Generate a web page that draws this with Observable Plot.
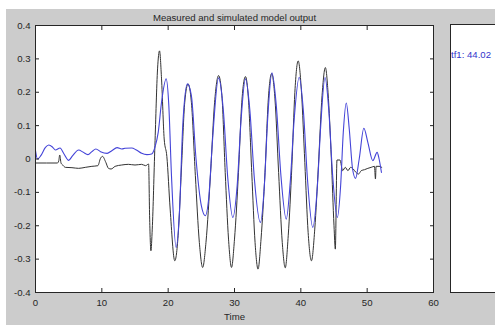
<!DOCTYPE html>
<html><head><meta charset="utf-8">
<script src="https://cdn.jsdelivr.net/npm/d3@7"></script>
<script src="https://cdn.jsdelivr.net/npm/@observablehq/plot@0.6"></script>
<style>
html,body{margin:0;padding:0;background:#fff;width:495px;height:325px;overflow:hidden;font-family:"Liberation Sans",Arial,sans-serif;}
#fig{position:absolute;left:6px;top:9px;width:489px;height:316px;background:#cccccc;}
#fig svg{display:block;}
#panel{position:absolute;left:450px;top:24px;width:60px;height:267px;background:#fff;border:1px solid #262626;}
#panel span{position:absolute;left:0px;top:24px;font-size:9.6px;color:#3333cc;white-space:nowrap;}
</style></head><body>
<div id="fig"></div>
<div id="panel"><span id="fit"></span></div>
<script>
const titleText = "Measured and simulated model output";
const xLabel = "Time";
const fitLabel = "tf1: 44.02";
const xTicks = [0, 10, 20, 30, 40, 50, 60];
const yTicks = [-0.4, -0.3, -0.2, -0.1, 0, 0.1, 0.2, 0.3, 0.4];
const yTickLabels = ["-0.4", "-0.3", "-0.2", "-0.1", "0", "0.1", "0.2", "0.3", "0.4"];

// Measured output (black)
const measuredT = [0, 3.3, 3.5, 3.65, 3.85, 4.1, 4.5, 5.5, 6.5, 7.5, 8.5, 9.4, 9.8, 10.1, 10.6, 11.0, 11.4, 12.0, 13.0, 14.0, 15.0, 16.0, 16.6, 17.05,
  17.2, 17.4, 17.6, 18.0, 18.4, 18.7, 19.0, 19.4, 19.8, 20.3, 21.0, 21.5, 22.0, 22.5, 23.0, 23.5, 24.1, 24.7, 25.2, 25.7, 26.4, 27.0, 27.6, 28.1, 28.6, 29.1, 29.55,
  30.0, 30.6, 31.1, 31.65, 32.1, 32.6, 33.1, 33.55, 34.0, 34.6, 35.1, 35.6, 36.1, 36.65, 37.2, 37.65, 38.1, 38.65, 39.1, 39.6, 40.1, 40.6, 41.1, 41.6, 42.1, 42.65, 43.2, 43.7,
  44.1, 44.6, 45.0, 45.2, 45.45, 45.9, 46.3, 46.7, 47.1, 47.5, 47.9, 48.3, 48.7, 49.1, 49.6, 50.1, 50.6, 51.1, 51.25, 51.35, 51.8, 52.2];
const measuredV = [-0.012, -0.012, -0.006, 0.012, -0.012, -0.018, -0.025, -0.026, -0.028, -0.025, -0.022, -0.02, 0.002, 0.008, -0.01, -0.028, -0.03, -0.022, -0.018, -0.016, -0.018, -0.016, -0.02, -0.015,
  -0.17, -0.275, -0.21, 0.04, 0.27, 0.324, 0.24, 0.06, 0.008, -0.15, -0.305, -0.23, -0.03, 0.17, 0.225, 0.17, -0.05, -0.25, -0.325, -0.25, -0.04, 0.17, 0.25, 0.19, -0.04, -0.24, -0.325,
  -0.24, -0.04, 0.17, 0.247, 0.18, -0.04, -0.25, -0.33, -0.24, -0.04, 0.18, 0.256, 0.18, -0.04, -0.25, -0.326, -0.23, -0.02, 0.2, 0.294, 0.2, -0.01, -0.22, -0.305, -0.21, -0.02, 0.19, 0.274,
  0.2, 0.0, -0.2, -0.27, -0.003, -0.003, -0.035, -0.025, -0.035, -0.025, -0.03, -0.04, -0.045, -0.035, -0.032, -0.028, -0.025, -0.022, -0.06, -0.022, -0.022, -0.025];

// Simulated model output tf1 (blue)
const modelT = [0, 0.3, 0.8, 1.5, 2.0, 2.6, 3.0, 3.7, 4.3, 5.0, 5.6, 6.5, 7.2, 7.9, 8.5, 9.1, 9.8, 10.8, 11.5, 12.3, 13.0, 13.5, 14.5, 15.2, 16.0, 16.8, 17.5,
  18.0, 18.5, 19.0, 19.7, 20.1, 20.5, 21.2, 21.7, 22.2, 22.9, 23.5, 24.2, 25.0, 25.6, 26.1, 26.7, 27.6, 28.3, 29.0, 29.75, 30.4, 31.0, 31.65, 32.3, 33.0, 33.9,
  34.5, 35.0, 35.65, 36.3, 37.0, 37.8, 38.4, 39.0, 39.75, 40.4, 41.0, 41.8, 42.5, 43.0, 43.65, 44.2, 44.8, 45.5, 46.0, 46.4, 46.85, 47.3, 47.8, 48.25, 48.8, 49.5, 50.1, 50.85, 51.5, 51.8, 52.15];
const modelV = [0.025, 0.0, 0.01, 0.035, 0.042, 0.035, 0.027, 0.033, 0.015, -0.004, 0.01, 0.027, 0.02, 0.013, 0.022, 0.03, 0.022, 0.017, 0.025, 0.034, 0.03, 0.032, 0.033, 0.027, 0.017, 0.013, 0.015,
  0.035, 0.08, 0.17, 0.24, 0.16, -0.05, -0.265, -0.16, 0.1, 0.225, 0.19, 0.0, -0.14, -0.17, -0.12, 0.06, 0.243, 0.15, -0.06, -0.175, -0.08, 0.12, 0.24, 0.15, -0.06, -0.19,
  -0.08, 0.12, 0.258, 0.16, -0.05, -0.18, -0.07, 0.12, 0.245, 0.14, -0.06, -0.205, -0.08, 0.1, 0.244, 0.15, -0.05, -0.175, -0.08, 0.08, 0.168, 0.09, -0.03, -0.058, 0.0, 0.092, 0.05, -0.005, 0.02, 0.0, -0.04];

const measured = measuredT.map((t, i) => ({t, v: measuredV[i]}));
const model = modelT.map((t, i) => ({t, v: modelV[i]}));

const font = "Liberation Sans, Arial, sans-serif";
const chart = Plot.plot({
  width: 489, height: 316,
  marginLeft: 29, marginTop: 16, marginRight: 62, marginBottom: 33,
  style: {background: "transparent", fontFamily: font, fontSize: "9.6px", color: "#262626"},
  x: {domain: [0, 60]},
  y: {domain: [-0.4, 0.4]},
  marks: [
    Plot.frame({fill: "white"}),
    Plot.line(measured, {x: "t", y: "v", stroke: "#333333", strokeWidth: 1, curve: "monotone-x"}),
    Plot.line(model, {x: "t", y: "v", stroke: "#4444d8", strokeWidth: 1.1, curve: "monotone-x"}),
    Plot.axisX({anchor: "bottom", ticks: xTicks, tickSize: -4, tickPadding: 11, label: null, tickFormat: d => String(d)}),
    Plot.axisX({anchor: "top", ticks: xTicks, tickSize: -4, tickFormat: () => "", label: null}),
    Plot.axisY({anchor: "left", ticks: yTicks, tickSize: -4, tickPadding: 9, label: null, tickFormat: (d, i) => yTickLabels[i]}),
    Plot.axisY({anchor: "right", ticks: yTicks, tickSize: -4, tickFormat: () => "", label: null}),
    Plot.frame({stroke: "#262626"}),
    Plot.text([titleText], {frameAnchor: "top", lineAnchor: "middle", dy: -8, fontSize: 9.6, fill: "#262626"}),
    Plot.text([xLabel], {frameAnchor: "bottom", lineAnchor: "middle", dy: 24, fontSize: 9.6, fill: "#262626"})
  ]
});
document.getElementById("fig").appendChild(chart);
document.getElementById("fit").textContent = fitLabel;
</script>
</body></html>
